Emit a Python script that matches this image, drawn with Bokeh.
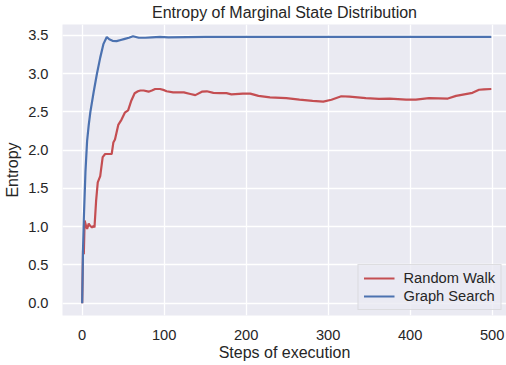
from bokeh.plotting import figure
from bokeh.models import Range1d, FixedTicker, NumeralTickFormatter, Legend, LegendItem
from bokeh.embed import file_html
from bokeh.resources import INLINE

# ---- data ----
rw_x = [0, 1, 2, 3, 5, 6, 8, 9, 11, 12, 14, 15, 17, 19, 22, 25, 28, 36, 38, 40, 44, 48,
        52, 56, 60, 64, 68, 71, 75, 81, 85, 89, 95, 100, 103, 111, 118, 124, 132, 138,
        146, 152, 160, 168, 176, 182, 196, 205, 215, 229, 249, 265, 281, 294, 304, 316,
        326, 346, 362, 375, 395, 407, 423, 446, 456, 466, 476, 484, 490, 499]
rw_y = [0.0, 0.69, 0.64, 1.08, 1.0, 0.97, 1.04, 1.02, 1.0, 0.99, 1.01, 0.99, 1.34, 1.58,
        1.66, 1.91, 1.95, 1.95, 2.1, 2.14, 2.33, 2.4, 2.49, 2.52, 2.65, 2.745, 2.77, 2.78,
        2.78, 2.765, 2.78, 2.80, 2.80, 2.785, 2.77, 2.755, 2.755, 2.755, 2.735, 2.72,
        2.765, 2.77, 2.75, 2.745, 2.745, 2.73, 2.74, 2.74, 2.71, 2.69, 2.68, 2.66, 2.645,
        2.635, 2.66, 2.705, 2.70, 2.68, 2.67, 2.675, 2.66, 2.66, 2.68, 2.675, 2.71, 2.73,
        2.75, 2.79, 2.795, 2.80]

gs_x = [0, 1, 2, 4, 6, 8, 10, 14, 18, 22, 26, 30, 33, 37, 42, 47, 52, 57, 62, 69, 77,
        85, 95, 105, 150, 200, 300, 400, 499]
gs_y = [0.0, 0.69, 1.1, 1.72, 2.12, 2.33, 2.5, 2.76, 3.0, 3.21, 3.39, 3.48, 3.45, 3.43,
        3.425, 3.44, 3.455, 3.47, 3.49, 3.47, 3.47, 3.475, 3.48, 3.475, 3.48, 3.48, 3.48,
        3.48, 3.48]

x_ticks = [0, 100, 200, 300, 400, 500]
y_ticks = [0.0, 0.5, 1.0, 1.5, 2.0, 2.5, 3.0, 3.5]

title_text = "Entropy of Marginal State Distribution"
x_label = "Steps of execution"
y_label = "Entropy"
series_names = ["Random Walk", "Graph Search"]

FONT = "Liberation Sans"
TXT = "#262626"
BG = "#EAEAF2"
RED = "#C44E52"
BLUE = "#4C72B0"

p = figure(width=506, height=365, output_backend="svg", toolbar_location=None,
           x_range=Range1d(-24.0, 517.5), y_range=Range1d(-0.161, 3.643))
p.min_border_left = 62
p.min_border_right = 0
p.min_border_top = 24
p.min_border_bottom = 50
p.background_fill_color = BG
p.border_fill_color = "white"
p.outline_line_color = None

p.title.text = title_text
p.title.text_font = FONT
p.title.text_font_size = "16px"
p.title.text_font_style = "normal"
p.title.text_color = TXT
p.title.align = "center"
p.title.vertical_align = "top"
p.title.standoff = 3

r1 = p.line(rw_x, rw_y, line_color=RED, line_width=2.2)
r2 = p.line(gs_x, gs_y, line_color=BLUE, line_width=2.2)

for ax in (p.xaxis[0], p.yaxis[0]):
    ax.axis_line_color = None
    ax.major_tick_line_color = None
    ax.minor_tick_line_color = None
    ax.major_tick_in = 0
    ax.major_tick_out = 0
    ax.minor_tick_in = 0
    ax.minor_tick_out = 0
    ax.major_label_text_font = FONT
    ax.major_label_text_font_size = "14.67px"
    ax.major_label_text_color = TXT
    ax.axis_label_text_font = FONT
    ax.axis_label_text_font_size = "16px"
    ax.axis_label_text_font_style = "normal"
    ax.axis_label_text_color = TXT

p.xaxis.ticker = FixedTicker(ticks=x_ticks)
p.yaxis.ticker = FixedTicker(ticks=y_ticks)
p.yaxis.formatter = NumeralTickFormatter(format="0.0")
p.xaxis.major_label_standoff = 14
p.yaxis.major_label_standoff = 14
p.xaxis.axis_label = x_label
p.xaxis.axis_label_standoff = 1
p.yaxis.axis_label = y_label
p.yaxis.axis_label_standoff = 4

p.grid.grid_line_color = "white"
p.grid.grid_line_width = 1.3
p.xgrid.ticker = FixedTicker(ticks=x_ticks)
p.ygrid.ticker = FixedTicker(ticks=y_ticks)

legend = Legend(items=[LegendItem(label=series_names[0], renderers=[r1]),
                       LegendItem(label=series_names[1], renderers=[r2])],
                location="bottom_right")
legend.label_text_font = FONT
legend.label_text_font_size = "14.67px"
legend.label_text_color = TXT
legend.background_fill_color = BG
legend.background_fill_alpha = 0.8
legend.border_line_color = "#CCCCCC"
legend.border_line_width = 1
legend.glyph_width = 31
legend.glyph_height = 16
legend.label_height = 16
legend.label_standoff = 9
legend.spacing = 2
legend.padding = 5
legend.margin = 5
p.add_layout(legend)

open("out.html", "w").write(file_html(p, INLINE))
